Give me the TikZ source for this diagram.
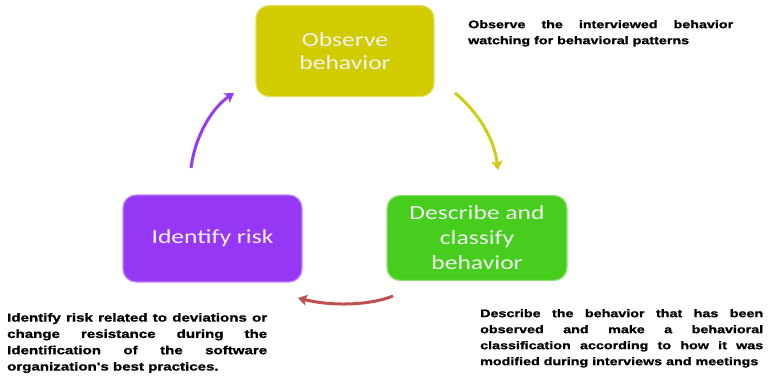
\documentclass[tikz,border=0pt]{standalone}
\usepackage{fontspec}
\usetikzlibrary{arrows.meta}
\newfontfamily\boxfont[FakeStretch=1.28]{Carlito}
\newfontfamily\notefont[FakeStretch=1.3,FakeBold=1.2]{Liberation Sans}
\definecolor{ycol}{RGB}{208,204,0}
\definecolor{gcol}{RGB}{70,205,30}
\definecolor{pcol}{RGB}{150,55,245}
\definecolor{yarr}{RGB}{205,205,20}
\definecolor{parr}{RGB}{150,60,240}
\definecolor{rarr}{RGB}{192,80,77}
\definecolor{btext}{RGB}{242,242,242}
\tikzset{
  stagebox/.style={rounded corners=13pt, inner sep=0pt, align=center,
    font=\boxfont\fontsize{20}{25}\selectfont, text=btext},
  notetext/.style={anchor=north west, inner sep=0pt, align=justify,
    font=\notefont\bfseries\fontsize{11}{16}\selectfont},
  cyclearrow/.style={line width=3pt, -{Stealth[length=9pt,width=11pt,inset=2pt]}}
}
\begin{document}
\begin{tikzpicture}[x=1pt,y=-1pt]
\useasboundingbox (0,0) rectangle (773,378);
% boxes
\node[stagebox, fill=ycol, draw=ycol!60!white, line width=1.2pt,
  minimum width=178pt, minimum height=91pt,
  font=\boxfont\fontsize{20}{23}\selectfont] (obs) at (345,51) {Observe\\behavior};
\node[stagebox, fill=gcol, draw=gcol!60!white, line width=1.2pt,
  minimum width=180pt, minimum height=85pt] (desc) at (477,238) {Describe and\\classify\\behavior};
\node[stagebox, fill=pcol, draw=pcol!60!white, line width=1.2pt,
  minimum width=179pt, minimum height=87pt] (idr) at (212.5,238.5) {Identify risk};
% notes
\node[notetext, text width=265pt] (nobs) at (468,20)
  {\hbadness=10000 Observe the interviewed behavior\linebreak watching for behavioral patterns};
\node[notetext, text width=283pt] (ndesc) at (480,309)
  {\hbadness=10000 Describe the behavior that has been\linebreak observed and make a behavioral\linebreak classification according to how it was\linebreak modified during interviews and meetings};
\node[notetext, text width=260pt, font=\notefont\bfseries\fontsize{11.6}{16.3}\selectfont] (nidr) at (7,313)
  {\hbadness=10000 Identify risk related to deviations or\linebreak change resistance during the\linebreak Identification of the software\linebreak organization's best practices.};
% arrow end points
\coordinate (ya) at (455,93);
\coordinate (yb) at (498,170);
\coordinate (ga) at (393,296);
\coordinate (gb) at (298,298);
\coordinate (pa) at (191,168);
\coordinate (pb) at (234,93);
\draw[cyclearrow, yarr] (ya) .. controls (478,112) and (494,138) .. (yb);
\draw[cyclearrow, rarr] (ga) .. controls (368,306) and (330,306) .. (gb);
\draw[cyclearrow, parr] (pa) .. controls (195,136) and (212,108) .. (pb);
\end{tikzpicture}
\end{document}
